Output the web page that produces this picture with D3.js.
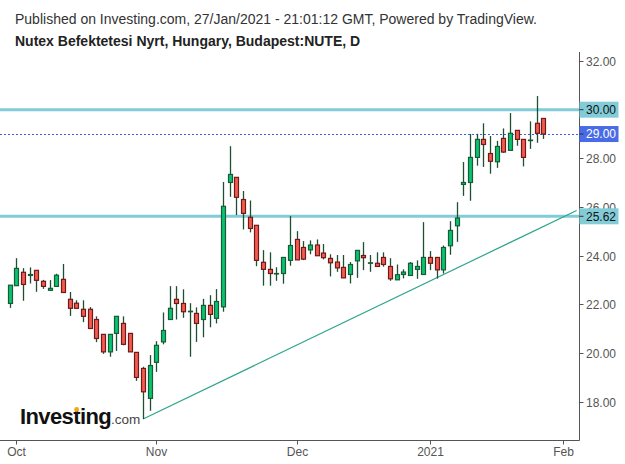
<!DOCTYPE html>
<html>
<head>
<meta charset="utf-8">
<script src="https://cdn.jsdelivr.net/npm/d3@7"></script>
<style>
    body { margin: 0; background: #fff; }
    svg { display: block; font-family: 'Liberation Sans', Arial, sans-serif; }
</style>
</head>
<body>
<div id="chart"></div>
<script>
// daily bars, 30 Sep 2020 .. 27 Jan 2021 (bar index 0 .. 80)
const open  = [22.04, 22.77, 23.32, 23.19, 23.40, 22.95, 22.58, 22.74, 23.03, 22.21,
               22.05, 21.80, 21.80, 21.38, 20.77, 20.05, 20.81, 21.22, 20.81, 20.03,
               19.37, 18.14, 19.62, 20.46, 21.38, 22.21, 22.04, 21.70, 21.63, 21.38,
               21.96, 21.43, 21.90, 27.01, 27.22, 26.31, 25.58, 25.25, 23.73, 23.44,
               23.25, 23.27, 23.81, 24.67, 24.34, 24.24, 24.44, 24.11, 23.89, 23.74,
               23.52, 23.23, 23.79, 24.01, 23.69, 23.69, 23.93, 23.56, 23.01, 23.23,
               23.19, 23.44, 23.23, 23.93, 23.93, 23.42, 24.41, 25.23, 26.93, 27.01,
               28.04, 28.78, 28.20, 27.86, 28.82, 28.33, 29.15, 28.78, 28.73, 29.44,
               29.64]
const high  = [22.79, 23.90, 23.49, 23.52, 23.40, 23.01, 23.00, 23.26, 23.66, 22.51,
               22.17, 22.17, 21.89, 21.51, 20.77, 20.77, 21.51, 21.51, 20.81, 20.03,
               19.44, 19.92, 20.49, 21.67, 22.75, 22.75, 22.62, 22.05, 21.88, 22.23,
               22.38, 22.63, 27.03, 28.50, 27.22, 26.66, 26.27, 25.25, 24.23, 24.14,
               23.53, 23.93, 25.63, 25.01, 24.60, 24.63, 24.67, 24.48, 24.06, 24.03,
               24.03, 23.74, 24.22, 24.56, 24.03, 24.14, 24.14, 23.90, 23.64, 23.44,
               23.74, 23.81, 25.38, 24.19, 23.93, 24.42, 25.42, 26.20, 27.85, 29.00,
               29.01, 29.44, 28.92, 28.72, 29.23, 29.86, 29.15, 28.78, 29.52, 30.56,
               29.64]
const low   = [21.86, 22.77, 22.15, 22.86, 22.52, 22.64, 22.58, 22.74, 22.49, 21.53,
               21.84, 21.27, 21.01, 20.45, 19.97, 19.85, 20.09, 20.32, 20.05, 18.86,
               17.29, 17.63, 19.23, 20.36, 21.38, 21.38, 21.45, 19.85, 20.46, 20.65,
               21.06, 21.22, 21.70, 26.42, 25.67, 25.08, 24.96, 23.57, 22.77, 22.77,
               22.97, 22.85, 23.59, 23.83, 23.82, 24.06, 24.00, 23.85, 23.15, 23.34,
               23.09, 22.86, 23.09, 23.41, 23.34, 23.56, 23.55, 22.97, 23.01, 23.07,
               23.19, 23.05, 23.23, 23.41, 23.06, 23.27, 24.04, 24.57, 26.46, 26.26,
               27.70, 27.65, 27.37, 27.61, 28.23, 28.33, 28.52, 27.67, 28.39, 28.64,
               28.80]
const close = [22.79, 23.48, 22.82, 23.23, 22.99, 22.74, 22.66, 23.20, 22.49, 21.84,
               21.84, 21.51, 21.01, 20.60, 20.05, 20.77, 21.51, 20.36, 20.05, 19.00,
               18.41, 19.49, 20.32, 20.93, 21.84, 22.04, 21.70, 21.72, 21.22, 21.96,
               21.59, 22.12, 26.03, 27.34, 26.40, 25.74, 25.12, 23.81, 23.44, 23.27,
               23.27, 23.93, 24.42, 23.83, 23.86, 24.44, 24.00, 23.92, 23.71, 23.50,
               23.09, 23.64, 24.22, 23.92, 23.71, 23.56, 23.64, 23.05, 23.22, 23.33,
               23.69, 23.56, 23.93, 23.69, 23.42, 24.34, 25.04, 25.55, 27.01, 28.04,
               28.78, 28.57, 27.88, 28.49, 28.26, 29.03, 28.78, 28.04, 28.75, 29.03,
               29.00]

// month ticks on the time axis (bar index of first session of month)
const monthLabels = ['Oct', 'Nov', 'Dec', '2021', 'Feb']
const monthBars   = [1, 22, 43, 63, 83]

const priceTicks = [18, 20, 22, 24, 26, 28, 30, 32]
const levels = [30.00, 25.62]
const lastPrice = 29.00
// trend line: [bar index, price]
const trendLine = [[20, 17.29], [85, 25.86]]

const width = 625
const height = 464
const axisX = 579.5
const axisY = 440.5

const svg = d3.select('#chart')
    .append('svg')
        .attr('width', width)
        .attr('height', height)

const xScale = d3.scaleLinear()
    .domain([0, 83])
    .range([9.7, 563.3])
const yScale = d3.scaleLinear()
    .domain([16.43, 32.37])
    .range([440, 52])

// header
svg.append('text')
    .attr('x', 15)
    .attr('y', 23.5)
    .attr('font-size', 14)
    .attr('fill', '#333')
    .text('Published on Investing.com, 27/Jan/2021 - 21:01:12 GMT, Powered by TradingView.')
svg.append('text')
    .attr('x', 15)
    .attr('y', 45.5)
    .attr('font-size', 14)
    .attr('font-weight', 'bold')
    .attr('fill', '#222')
    .text('Nutex Befektetesi Nyrt, Hungary, Budapest:NUTE, D')

// logo
const logo = svg.append('g').attr('class', 'logo')
const logoText = logo.append('text')
    .attr('x', 20)
    .attr('y', 424)
    .attr('font-size', 22)
    .attr('font-weight', 'bold')
    .attr('letter-spacing', -0.6)
    .attr('fill', '#111')
    .text('Investing')
logo.append('text')
    .attr('x', 111)
    .attr('y', 424)
    .attr('font-size', 13.5)
    .attr('fill', '#444')
    .text('.com')

const plot = svg.append('g').attr('class', 'plot')

// horizontal levels
plot.selectAll('line.level')
    .data(levels)
    .join('line')
        .attr('class', 'level')
        .attr('x1', 0)
        .attr('x2', axisX)
        .attr('y1', (d) => yScale(d))
        .attr('y2', (d) => yScale(d))
        .style('stroke', '#82ccd8')
        .style('stroke-width', 3)

// last price line
plot.append('line')
    .attr('x1', 0)
    .attr('x2', axisX)
    .attr('y1', Math.round(yScale(lastPrice)) + 0.5)
    .attr('y2', Math.round(yScale(lastPrice)) + 0.5)
    .style('stroke', '#3e5fd6')
    .style('stroke-width', 1)
    .style('stroke-dasharray', '2,2')

// trend line
plot.append('path')
    .attr('d', d3.line()
        .x((d) => xScale(d[0]))
        .y((d) => yScale(d[1]))(trendLine))
    .style('fill', 'none')
    .style('stroke', '#2fa58c')
    .style('stroke-width', 1.2)

// candles
const bars = d3.range(open.length).map((i) => ({
    i, o: open[i], h: high[i], l: low[i], c: close[i]
}))
const candle = plot.selectAll('g.candle')
    .data(bars)
    .join('g')
        .attr('class', 'candle')
candle.append('line')
    .attr('x1', (d) => Math.round(xScale(d.i)) + 0.5)
    .attr('x2', (d) => Math.round(xScale(d.i)) + 0.5)
    .attr('y1', (d) => yScale(d.h))
    .attr('y2', (d) => yScale(d.l))
    .style('stroke', '#1c4f33')
    .style('stroke-width', 1.3)
candle.append('rect')
    .attr('x', (d) => Math.round(xScale(d.i)) - 1.5)
    .attr('y', (d) => yScale(Math.max(d.o, d.c)))
    .attr('width', 4)
    .attr('height', (d) => Math.max(0.5, yScale(Math.min(d.o, d.c)) - yScale(Math.max(d.o, d.c))))
    .style('fill', (d) => d.c >= d.o ? '#07c471' : '#f65a4f')
    .style('stroke', (d) => d.c >= d.o ? '#1a5a36' : '#6d1a18')
    .style('stroke-width', 1.2)

// orange dot over the lowercase i of the logo
const iPos = logoText.node().getStartPositionOfChar(5)
const iExt = logoText.node().getExtentOfChar(5)
logo.append('circle')
    .attr('cx', iPos.x + iExt.width / 2)
    .attr('cy', 409.5)
    .attr('r', 2.4)
    .style('fill', '#f7a21b')

// axes
const axisColor = '#555'
const yAxis = svg.append('g').attr('class', 'y axis')
yAxis.append('line')
    .attr('x1', axisX).attr('x2', axisX)
    .attr('y1', 52).attr('y2', axisY)
    .style('stroke', axisColor)
yAxis.selectAll('g.tick')
    .data(priceTicks)
    .join('g')
        .attr('class', 'tick')
        .attr('transform', (d) => 'translate(0,' + (Math.round(yScale(d)) + 0.5) + ')')
        .call((g) => g.append('line')
            .attr('x1', axisX).attr('x2', axisX + 4)
            .style('stroke', axisColor))
        .call((g) => g.append('text')
            .attr('x', 586)
            .attr('dy', '0.35em')
            .attr('font-size', 12)
            .attr('fill', '#555')
            .text((d) => d3.format('.2f')(d)))

const xAxis = svg.append('g').attr('class', 'x axis')
xAxis.append('line')
    .attr('x1', 0).attr('x2', axisX)
    .attr('y1', axisY).attr('y2', axisY)
    .style('stroke', axisColor)
xAxis.selectAll('g.tick')
    .data(monthBars)
    .join('g')
        .attr('class', 'tick')
        .attr('transform', (d) => 'translate(' + (Math.round(xScale(d)) + 0.5) + ',0)')
        .call((g) => g.append('line')
            .attr('y1', axisY).attr('y2', axisY + 4)
            .style('stroke', axisColor))
        .call((g) => g.append('text')
            .attr('y', 456)
            .attr('text-anchor', 'middle')
            .attr('font-size', 12)
            .attr('fill', '#555')
            .text((d, i) => monthLabels[i]))

// price labels on the axis
const labels = [
    {v: levels[0], fill: '#82ccd8', color: '#111'},
    {v: lastPrice, fill: '#4a6be6', color: '#fff'},
    {v: levels[1], fill: '#82ccd8', color: '#111'}
]
const tags = svg.selectAll('g.tag')
    .data(labels)
    .join('g')
        .attr('class', 'tag')
        .attr('transform', (d) => 'translate(0,' + yScale(d.v) + ')')
tags.append('rect')
    .attr('x', axisX)
    .attr('y', -8)
    .attr('width', 39)
    .attr('height', 16)
    .style('fill', (d) => d.fill)
tags.append('line')
    .attr('x1', axisX).attr('x2', axisX + 4)
    .style('stroke', '#333')
tags.append('text')
    .attr('x', 586)
    .attr('dy', '0.35em')
    .attr('font-size', 12)
    .attr('fill', (d) => d.color)
    .text((d) => d3.format('.2f')(d.v))
</script>
</body>
</html>
